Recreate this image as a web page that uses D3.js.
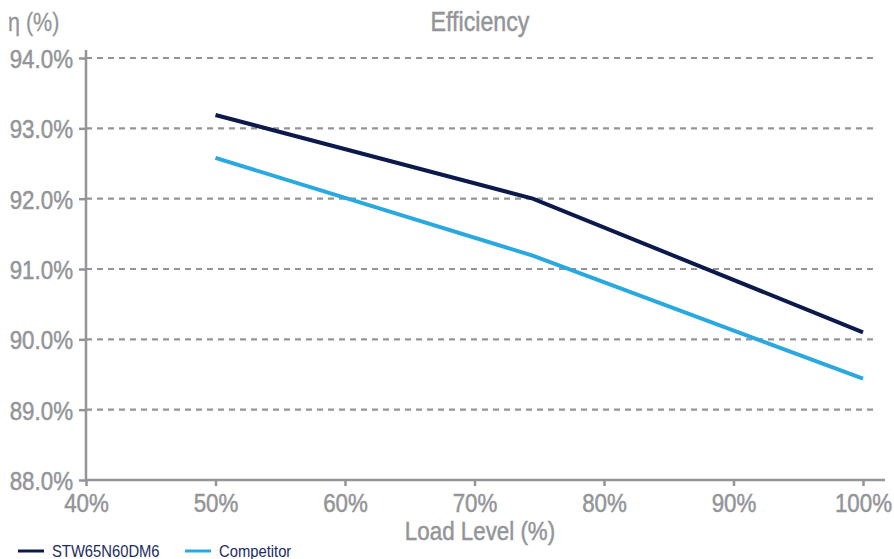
<!DOCTYPE html>
<html>
<head>
<meta charset="utf-8">
<script src="https://cdn.jsdelivr.net/npm/d3@7"></script>
<style>
  body { margin: 0; background: #fff; }
  text { font-family: "Liberation Sans", Arial, sans-serif; }
</style>
</head>
<body>
<div id="canvas"></div>
<script>
// data
const loadLevels = [50, 74.5, 100];
const stwValues = [93.19, 92.0, 90.1];
const competitorValues = [92.58, 91.19, 89.44];
const seriesNames = ["STW65N60DM6", "Competitor"];
const seriesColours = ["#0c1a4b", "#2aa8e0"];
const xTicks = [40, 50, 60, 70, 80, 90, 100];
const yTicks = [88, 89, 90, 91, 92, 93, 94];

const width = 894, height = 559;
const margin = {top: 58, right: 31, bottom: 79, left: 86};

const svg = d3.select("#canvas")
    .append("svg")
    .attr("width", width)
    .attr("height", height);

const x = d3.scaleLinear()
    .domain([40, 100])
    .range([margin.left, 863]);

const y = d3.scaleLinear()
    .domain([88, 94])
    .range([height - margin.bottom, margin.top]);

const grey = "#939598";
const condenseX = 0.86;

// squeeze text horizontally (no narrow font installed)
function condense(sel, sx) {
    sel.each(function() {
        const t = d3.select(this);
        const tx = +t.attr("x") || 0, ty = +t.attr("y") || 0;
        t.attr("x", 0).attr("y", 0)
            .attr("transform", "translate(" + tx + "," + ty + ") scale(" + sx + ",1)");
    });
}

// grid lines
svg.selectAll(".grid")
    .data(yTicks.filter(d => d > 88))
    .join("line")
    .attr("x1", margin.left)
    .attr("x2", 876)
    .attr("y1", d => y(d))
    .attr("y2", d => y(d))
    .attr("stroke", grey)
    .attr("stroke-width", 2.2)
    .attr("stroke-dasharray", "6,5");

// y axis
const yAxis = svg.append("g")
    .attr("transform", "translate(" + margin.left + ",0)")
    .call(d3.axisLeft(y).tickValues(yTicks).tickSize(7).tickPadding(6).tickFormat(d => d.toFixed(1) + "%"));
yAxis.select(".domain").attr("d", "M0," + (margin.top - 8) + "V" + y(88)).attr("stroke", grey).attr("stroke-width", 2.5);
yAxis.selectAll(".tick line").attr("stroke", grey).attr("stroke-width", 2.5);
yAxis.selectAll(".tick text")
    .attr("fill", grey).attr("stroke", grey).attr("stroke-width", 0.5)
    .attr("font-size", 26).attr("dy", "0.36em")
    .call(condense, condenseX);

// x axis
const xAxis = svg.append("g")
    .attr("transform", "translate(0," + y(88) + ")")
    .call(d3.axisBottom(x).tickValues(xTicks).tickSize(6).tickPadding(6).tickFormat(d => d + "%"));
xAxis.select(".domain").attr("d", "M" + margin.left + ",0H885").attr("stroke", grey).attr("stroke-width", 2.5);
xAxis.selectAll(".tick line").attr("stroke", grey).attr("stroke-width", 2.5);
xAxis.selectAll(".tick text")
    .attr("fill", grey).attr("stroke", grey).attr("stroke-width", 0.5)
    .attr("font-size", 26).attr("dy", "0.76em")
    .call(condense, condenseX);

// lines
const line = d3.line()
    .x(d => x(d[0]))
    .y(d => y(d[1]));

[stwValues, competitorValues].forEach((values, i) => {
    svg.append("path")
        .datum(loadLevels.map((l, j) => [l, values[j]]))
        .attr("fill", "none")
        .attr("stroke", seriesColours[i])
        .attr("stroke-width", 4)
        .attr("d", line);
});

// titles
svg.append("text")
    .attr("x", 480)
    .attr("y", 31)
    .attr("text-anchor", "middle")
    .attr("fill", grey).attr("stroke", grey).attr("stroke-width", 0.5)
    .attr("font-size", 27)
    .text("Efficiency")
    .call(condense, condenseX);

svg.append("text")
    .attr("x", 8)
    .attr("y", 31)
    .attr("fill", grey).attr("stroke", grey).attr("stroke-width", 0.3)
    .attr("font-size", 25)
    .text("η  (%)")
    .call(condense, condenseX);

svg.append("text")
    .attr("x", 480)
    .attr("y", 540)
    .attr("text-anchor", "middle")
    .attr("fill", grey).attr("stroke", grey).attr("stroke-width", 0.5)
    .attr("font-size", 26)
    .text("Load Level (%)")
    .call(condense, condenseX);

// legend
const legendX = [18, 185];
const legend = svg.selectAll(".legend")
    .data(seriesNames)
    .join("g")
    .attr("transform", (d, i) => "translate(" + legendX[i] + ",551)");

legend.append("line")
    .attr("x1", 0)
    .attr("x2", 26)
    .attr("stroke", (d, i) => seriesColours[i])
    .attr("stroke-width", 3);

legend.append("text")
    .attr("x", 34)
    .attr("y", 0)
    .attr("dy", "0.36em")
    .attr("fill", "#1c2b5e")
    .attr("font-size", 17)
    .text(d => d)
    .call(condense, 0.87);
</script>
</body>
</html>
